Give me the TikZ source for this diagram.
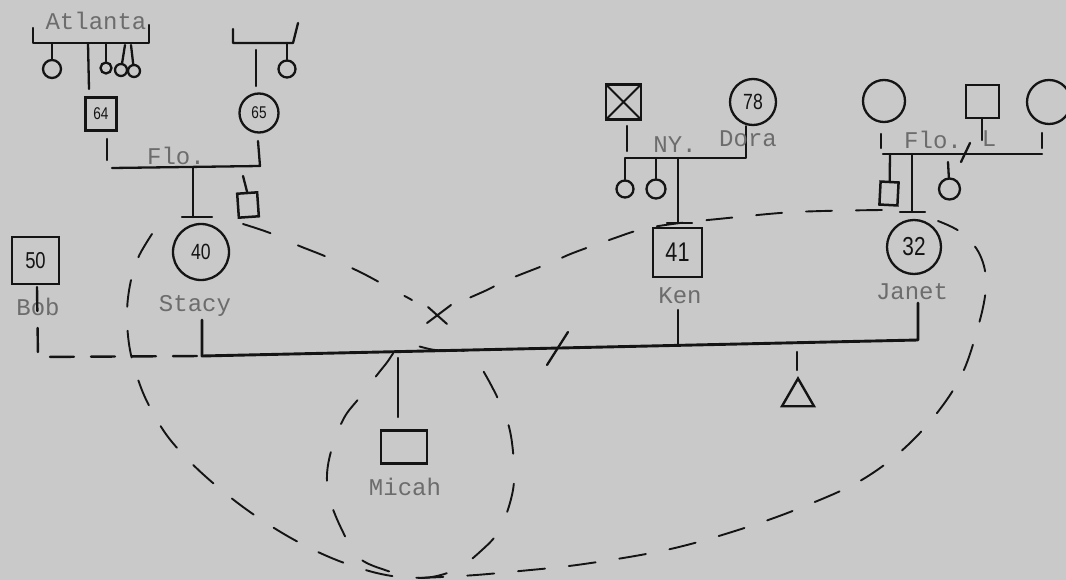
\documentclass[tikz,border=0pt]{standalone}
\usepackage{fontspec}
\setmonofont{Liberation Mono}
\newfontfamily\handdigits[FakeStretch=0.8]{Liberation Sans}
\usetikzlibrary{shapes.geometric,calc}

\definecolor{paper}{RGB}{201,201,201}
\definecolor{ink}{RGB}{20,20,20}
\definecolor{typed}{RGB}{108,108,108}

\tikzset{
  kin/.style={draw=ink, line width=2.3pt, line cap=round, line join=round},
  marr/.style={draw=ink, line width=2.9pt, line cap=round, line join=round},
  male/.style={rectangle, draw=ink, line width=2.5pt, inner sep=0pt},
  female/.style={circle, draw=ink, line width=2.3pt, inner sep=0pt},
  typed/.style={text=typed, font=\ttfamily\fontsize{24}{24}\selectfont, inner sep=0pt},
  age/.style={font=\handdigits\fontsize{#1}{#1}\selectfont, text=ink},
  boundary/.style={draw=ink, line width=1.9pt, line cap=round, dash pattern=on 29pt off 30pt},
  cohab/.style={draw=ink, line width=2.4pt, line cap=round, dash pattern=on 24pt off 17pt},
}

\begin{document}
\begin{tikzpicture}[x=1pt,y=-1pt]
\fill[paper] (0,0) rectangle (1066,580);
\path[use as bounding box] (0,0) rectangle (1066,580);

% ---------- paternal side: Atlanta ----------
\node[typed] (atl) at (96,21) {Atlanta};
\coordinate (atlA) at (33,28);
\coordinate (atlB) at (33,43);
\coordinate (atlC) at (149,43);
\coordinate (atlD) at (149,25);
\draw[kin] (atlA) -- (atlB) -- (atlC) -- (atlD);

\node[female, minimum size=18pt] (a1) at (52,69) {};
\node[female, minimum size=11pt] (a2) at (106,68) {};
\node[female, minimum size=12pt] (a3) at (121,70) {};
\node[female, minimum size=12pt] (a4) at (134,71) {};
\draw[kin] (atlB -| a1) -- (a1);
\draw[kin] (atlB -| a2) -- (a2);
\draw[kin] (125,45) -- (a3);
\draw[kin] (131,45) -- (a4);

\node[male, minimum width=31pt, minimum height=33pt, age=17] (g64) at (101,114) {64};
\coordinate (s64) at (89,89);
\draw[kin] (atlB -| 88,0) -- (s64);

% ---------- maternal side ----------
\coordinate (mbA) at (233,29);
\coordinate (mbB) at (233,43);
\coordinate (mbC) at (293,43);
\coordinate (mbD) at (298,23);
\draw[kin] (mbA) -- (mbB) -- (mbC) -- (mbD);
\node[female, minimum size=17pt] (b1) at (287,69) {};
\draw[kin] (mbB -| b1) -- (b1);
\node[female, minimum size=39pt, age=17] (g65) at (259,113) {65};
\coordinate (s65) at (256,86);
\draw[kin] (256,50) -- (s65);

% ---------- Flo. marriage ----------
\coordinate (floL) at (112,168);
\coordinate (floR) at (260,166);
\coordinate (f64) at (107,139);
\draw[kin] (f64) -- (107,160);
\draw[kin] (floL) -- (floR) -- (258,141);
\node[typed] (flo) at (176,156) {Flo.};

% Stacy and her brother
\node[female, minimum size=56pt, age=22] (stacy) at (201,252) {40};
\node[typed] (stacyN) at (195,306) {Stacy};
\coordinate (tS) at (193,217);
\draw[kin] (floL -| tS) -- (tS);
\draw[kin] (182,217) -- (212,217);
\node[male, minimum width=20pt, minimum height=24pt, rotate=4] (sb) at (248,205) {};
\draw[kin] (243,176) -- (sb.north);

% Bob
\node[male, minimum size=47pt, age=23] (bob) at (35.5,260.5) {50};
\node[typed] (bobN) at (38,307) {Bob};
\coordinate (bobC) at (38,357);
\coordinate (mS) at (202,356);
\draw[cohab] (37,287) -- (bobC) -- (mS);

% ---------- main marriage line ----------
\coordinate (mJ) at (918,340);
\draw[marr] (202,320) -- (mS) -- (mJ) -- (918,303);
\draw[kin] (678,310) -- (678,345);
\draw[kin] (547,365) -- (568,332);

% Micah
\node[male, minimum width=46pt, minimum height=33pt] (micah) at (404,447) {};
\node[typed] (micahN) at (405,487) {Micah};
\draw[kin] (398,358) -- (398,417);

% pregnancy
\node[regular polygon, regular polygon sides=3, draw=ink, line width=2.4pt,
      minimum size=37pt, inner sep=0pt] (preg) at (798,397) {};
\draw[kin] (797,352) -- (797,370);

% ---------- NY family ----------
\node[male, minimum size=35pt,
      path picture={\draw[ink, line width=2pt]
        (path picture bounding box.north west) -- (path picture bounding box.south east)
        (path picture bounding box.north east) -- (path picture bounding box.south west);}]
      (kf) at (623.5,102) {};
\node[female, minimum size=46pt, age=22] (dora) at (753,102) {78};
\coordinate (nyL) at (628,158);
\coordinate (nyR) at (746,158);
\draw[kin] (627,126) -- (627,151);
\node[female, minimum size=17pt] (k1) at (625,189) {};
\node[female, minimum size=19pt] (k2) at (656,189) {};
\draw[kin] (k1) -- (k1 |- nyL) -- (nyR) -- (nyR |- dora.south);
\draw[kin] (k2) -- (k2 |- nyL);
\node[typed] (ny) at (675,145) {NY.};
\node[typed] (doraN) at (748,139) {Dora};

% Ken
\node[male, minimum size=49pt, age=27] (ken) at (677.5,252.5) {41};
\node[typed] (kenN) at (680,296) {Ken};
\draw[kin] (678,158) -- (678,223);
\draw[kin] (667,223) -- (692,223);

% ---------- Janet's family ----------
\node[female, minimum size=42pt] (jm) at (884,101) {};
\node[male, minimum size=33pt] (jf) at (982.5,101.5) {};
\node[female, minimum size=44pt] (js) at (1049,102) {};
\coordinate (flL) at (883,154);
\coordinate (flR) at (1042,154);
\draw[kin] (flL) -- (flR);
\draw[kin] (881,134) -- (881,148);
\draw[kin] (1042,133) -- (1042,148);
\draw[kin] (982,118) -- (982,140);
\draw[kin] (961,162) -- (970,143);
\node[typed] (flo2) at (933,140) {Flo.};
\node[typed] (floL2) at (989,139) {L};

\node[male, minimum width=18pt, minimum height=23pt, rotate=-3] (jb) at (889,193.5) {};
\draw[kin] (flL -| 890,0) -- (jb.north);
\coordinate (tJ) at (912,212);
\draw[kin] (flL -| tJ) -- (tJ);
\draw[kin] (900,212) -- (925,212);
\node[female, minimum size=21pt] (jsis) at (949.5,189) {};
\draw[kin] (948,162) -- (jsis);
\node[female, minimum size=54pt, age=26] (janet) at (914,247) {32};
\node[typed] (janetN) at (912,292) {Janet};

% ---------- cut-off mark ----------
\coordinate (xm) at (438,315);
\draw[kin, line width=2pt] ($(xm)+(-10,-8)$) -- ($(xm)+(9,9)$)
                           ($(xm)+(-11,8)$) -- ($(xm)+(13,-10)$);

% ---------- household boundary ----------
% left arm, from Stacy's brother down to the cut-off mark
\draw[boundary] plot[smooth, tension=0.6] coordinates {
  (243,224) (270,233) (297,245) (327,257) (360,272) (388,287) (412,300)};
% the long sweep round Stacy, Micah and Janet
\draw[boundary, dash pattern=on 27pt off 24pt] plot[smooth, tension=0.6] coordinates {
  (152,234) (138,258) (130,285) (127,315)
  (130,350) (140,385) (153,413) (172,442) (205,476) (250,512) (300,543)
  (350,565) (400,577) (460,576) (520,571) (584,564) (666,550) (735,531)
  (800,508) (865,478) (917,436) (958,382) (978,327) (986,285) (980,255)
  (962,233) (938,221)};
% top arm, from Janet's brother back to the cut-off mark
\draw[boundary, dash pattern=on 26pt off 24pt] plot[smooth, tension=0.6] coordinates {
  (882,210) (823,211) (780,213) (718,219)
  (680,223) (643,229) (612,239) (573,253) (550,263) (507,280) (487,290)
  (462,301)};

% Micah's own household
\draw[boundary] plot[smooth cycle, tension=0.6] coordinates {
  (403,345) (435,350) (468,352) (482,369) (500,403) (510,431) (514,467)
  (512,495) (500,529) (482,550) (455,570) (420,578) (385,570) (358,557)
  (342,530) (330,500) (327,475) (332,448) (344,418) (360,397) (385,365)};

\end{tikzpicture}
\end{document}
